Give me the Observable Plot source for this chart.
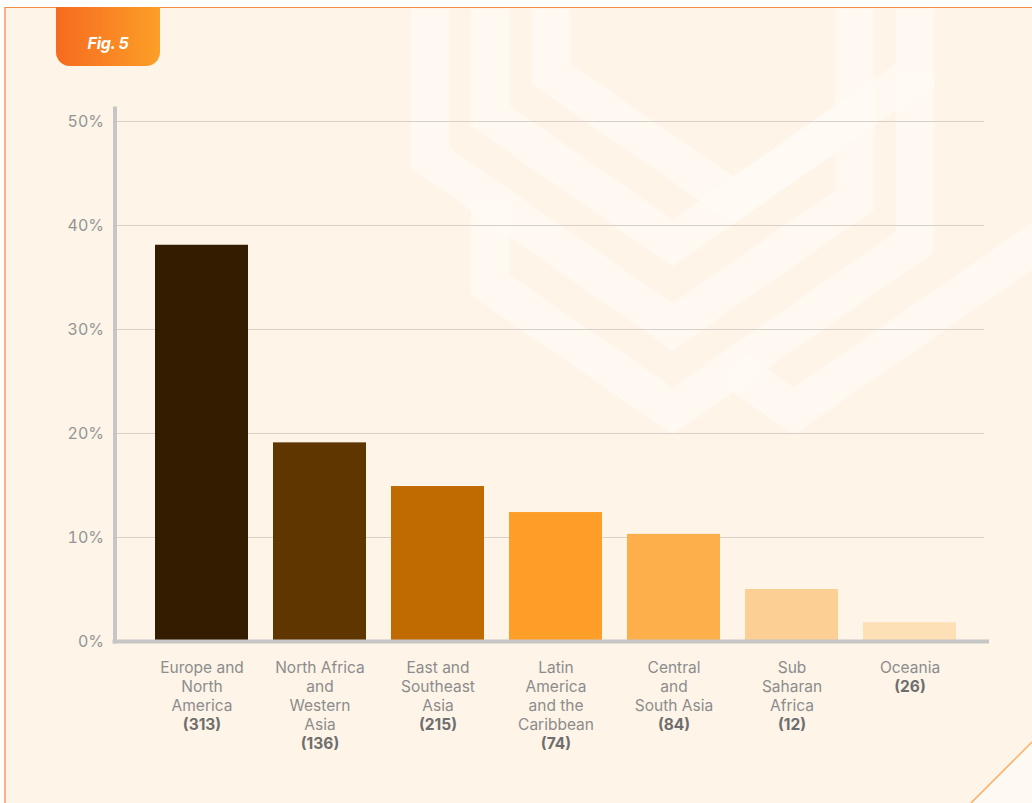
<!DOCTYPE html>
<html>
<head>
<meta charset="utf-8">
<script src="https://cdn.jsdelivr.net/npm/d3@7"></script>
<script src="https://cdn.jsdelivr.net/npm/@observablehq/plot@0.6"></script>
<style>
  html, body { margin: 0; padding: 0; background: #ffffff; }
  #page { position: relative; width: 1032px; height: 803px; overflow: hidden; background: #ffffff; font-family: Inter, sans-serif; }
  #panel { position: absolute; left: 4px; top: 7px; width: 1028px; height: 796px; background: #fef4e8;
           border-left: 2px solid #fdae87; border-top: 1.5px solid #f28c49; box-sizing: border-box; overflow: hidden; }
  #deco { position: absolute; left: 0; top: 0; }
  #tab { position: absolute; left: 56px; top: 7px; width: 104px; height: 59px; box-sizing: border-box; padding-top: 13px;
         background: linear-gradient(90deg, #f76a1f, #fc9f27); border-radius: 0 0 14px 14px;
         display: flex; align-items: center; justify-content: center;
         color: #fff; font-weight: 700; font-style: italic; font-size: 16px; font-family: Inter, sans-serif; letter-spacing: -0.3px; }
  #chart { position: absolute; left: 0; top: 0; }
</style>
</head>
<body>
<div id="page">
  <div id="panel"></div>
  <svg id="deco" width="1032" height="803"></svg>
  <div id="tab">Fig. 5</div>
  <div id="chart"></div>
</div>
<script>
// ---- Data ----
const regions = [
  "Europe and North America",
  "North Africa and Western Asia",
  "East and Southeast Asia",
  "Latin America and the Caribbean",
  "Central and South Asia",
  "Sub Saharan Africa",
  "Oceania"
];
const labelLines = [
  "Europe and\nNorth\nAmerica",
  "North Africa\nand\nWestern\nAsia",
  "East and\nSoutheast\nAsia",
  "Latin\nAmerica\nand the\nCaribbean",
  "Central\nand\nSouth Asia",
  "Sub\nSaharan\nAfrica",
  "Oceania"
];
const counts = [313, 136, 215, 74, 84, 12, 26];
const shares = [0.381, 0.191, 0.149, 0.124, 0.103, 0.050, 0.018];
const colors = ["#331c00", "#603600", "#c06a02", "#fe9e28", "#fdaf4b", "#fccf94", "#fde0b6"];
const yTicks = [0, 0.1, 0.2, 0.3, 0.4, 0.5];

const table = regions.map((r, i) => ({
  region: r,
  label: labelLines[i],
  nLines: labelLines[i].split("\n").length,
  countLabel: "(" + counts[i] + ")",
  share: shares[i],
  color: colors[i]
}));
const lineCounts = Array.from(new Set(table.map(d => d.nLines)));

// ---- Decorative background chevrons ----
const decoLines = [
  [[430,0],[430,158],[672.7,327],[854.6,200],[854.6,0]],
  [[490.5,0],[490.5,116],[672.7,243],[854.6,116]],
  [[551,0],[551,74],[733,200],[915,74],[915,0]],
  [[490.5,200],[490.5,285],[672.7,411],[915,242],[915,74]],
  [[733,369],[794,411],[1045,237]]
];
const deco = d3.select("#deco");
deco.append("clipPath").attr("id", "clipPanel").append("rect")
  .attr("x", 6).attr("y", 8.5).attr("width", 1026).attr("height", 795);
const g = deco.append("g").attr("clip-path", "url(#clipPanel)");
g.selectAll("polyline").data(decoLines).join("polyline")
  .attr("points", d => d.map(p => p.join(",")).join(" "))
  .attr("fill", "none").attr("stroke", "#fffaf4").attr("stroke-width", 39)
  .attr("stroke-linejoin", "miter").attr("stroke-miterlimit", 10).attr("opacity", 0.8);
// bottom-right corner fold
g.append("polygon").attr("points", "1032,742 971,803 1032,803").attr("fill", "#fff9f4");
g.append("line").attr("x1", 1032).attr("y1", 742).attr("x2", 971).attr("y2", 803)
  .attr("stroke", "#fcae5a").attr("stroke-width", 1.5);

// ---- Chart ----
const FS = 15.5, LH = 1.22, DY = 18.5;
const chart = Plot.plot({
  width: 1032,
  height: 770,
  marginTop: 108,
  marginLeft: 114.5,
  marginRight: 43,
  marginBottom: 129,
  style: { background: "transparent", fontFamily: "Inter, sans-serif" },
  x: { domain: regions, range: [155, 956], paddingInner: 0.212, paddingOuter: 0, axis: null },
  y: { domain: [0, 0.5], range: [641, 121] },
  marks: [
    Plot.ruleY(yTicks.slice(1), { stroke: "#d6d0c8", strokeWidth: 1, insetRight: 5 }),
    Plot.barY(table, { x: "region", y: "share", fill: "color" }),
    Plot.frame({ anchor: "left", stroke: "#c6c6c6", strokeWidth: 4 }),
    Plot.ruleY([0], { stroke: "#c6c6c6", strokeWidth: 4, insetLeft: -2 }),
    Plot.axisY({
      ticks: yTicks,
      tickFormat: d => Math.round(d * 100) + "%",
      tickSize: 0,
      tickPadding: 11,
      fontSize: 16,
      fill: "#949494",
      label: null
    }),
    Plot.text(table, {
      x: "region", text: "label", frameAnchor: "bottom", lineAnchor: "top",
      dy: DY, fontSize: FS, lineHeight: LH, fill: "#8c8c8c"
    }),
    ...lineCounts.map(n => Plot.text(table.filter(d => d.nLines === n), {
      x: "region", text: "countLabel", frameAnchor: "bottom", lineAnchor: "top",
      dy: DY + n * FS * LH, fontSize: FS, lineHeight: LH, fill: "#6e6e6e", fontWeight: 700
    }))
  ]
});
document.getElementById("chart").appendChild(chart);
</script>
</body>
</html>
